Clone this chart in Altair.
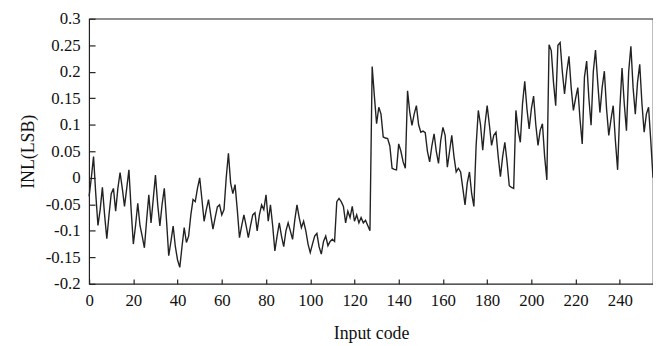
import altair as alt
import pandas as pd

# INL (LSB) per input code 0..255
inl = [
    -0.035, 0.0, 0.04, -0.03, -0.09, -0.06, -0.018, -0.07, -0.115, -0.07,
    -0.03, -0.02, -0.063, -0.02, 0.01, -0.02, -0.054, -0.02, 0.015, -0.06,
    -0.125, -0.09, -0.048, -0.09, -0.11, -0.132, -0.08, -0.032, -0.085, -0.04,
    0.005, -0.05, -0.091, -0.05, -0.02, -0.08, -0.147, -0.12, -0.091, -0.13,
    -0.155, -0.169, -0.13, -0.094, -0.122, -0.11, -0.07, -0.041, -0.045, -0.02,
    0.0, -0.04, -0.082, -0.06, -0.041, -0.07, -0.097, -0.075, -0.055, -0.051,
    -0.07, -0.06, 0.0, 0.046, -0.01, -0.03, -0.013, -0.06, -0.113, -0.09,
    -0.07, -0.09, -0.113, -0.09, -0.07, -0.066, -0.1, -0.07, -0.051, -0.06,
    -0.032, -0.082, -0.051, -0.09, -0.138, -0.11, -0.085, -0.11, -0.13, -0.1,
    -0.085, -0.1, -0.116, -0.08, -0.051, -0.075, -0.094, -0.082, -0.1, -0.125,
    -0.141, -0.125, -0.11, -0.105, -0.13, -0.144, -0.12, -0.11, -0.128, -0.12,
    -0.116, -0.12, -0.045, -0.039, -0.045, -0.054, -0.085, -0.063, -0.075, -0.054,
    -0.082, -0.07, -0.085, -0.075, -0.085, -0.08, -0.09, -0.1, 0.21, 0.154,
    0.102, 0.133, 0.12, 0.077, 0.075, 0.074, 0.06, 0.018, 0.016, 0.015,
    0.064, 0.05, 0.03, 0.018, 0.164, 0.124, 0.099, 0.12, 0.136, 0.1,
    0.086, 0.088, 0.085, 0.05, 0.03, 0.06, 0.083, 0.05, 0.027, 0.07,
    0.095, 0.08, 0.02, 0.05, 0.08, 0.04, 0.011, 0.018, 0.011, -0.02,
    -0.051, -0.01, 0.011, -0.03, -0.054, 0.06, 0.127, 0.1, 0.052, 0.1,
    0.136, 0.1, 0.061, 0.08, 0.086, 0.04, 0.002, 0.04, 0.067, 0.03,
    -0.015, -0.018, -0.02, 0.127, 0.09, 0.067, 0.14, 0.182, 0.13, 0.092,
    0.13, 0.154, 0.1, 0.061, 0.09, 0.102, 0.04, -0.004, 0.251, 0.24,
    0.18, 0.136, 0.25, 0.255, 0.2, 0.158, 0.2, 0.229, 0.17, 0.127,
    0.15, 0.17, 0.11, 0.064, 0.19, 0.22, 0.15, 0.099, 0.2, 0.241,
    0.18, 0.123, 0.17, 0.201, 0.13, 0.08, 0.11, 0.136, 0.07, 0.015,
    0.13, 0.207, 0.14, 0.089, 0.2, 0.248, 0.17, 0.12, 0.18, 0.214,
    0.14, 0.086, 0.12, 0.133, 0.07, 0.0,
]
codes = list(range(len(inl)))

x_ticks = [0, 20, 40, 60, 80, 100, 120, 140, 160, 180, 200, 220, 240]
y_ticks = [-0.2, -0.15, -0.1, -0.05, 0, 0.05, 0.1, 0.15, 0.2, 0.25, 0.3]

df = pd.DataFrame({"code": codes, "inl": inl})

FONT = "Liberation Serif, Times New Roman, serif"

chart = (
    alt.Chart(df)
    .mark_line(color="#222222", strokeWidth=1.4)
    .encode(
        x=alt.X(
            "code:Q",
            scale=alt.Scale(domain=[0, 255], nice=False, zero=False),
            axis=alt.Axis(
                values=x_ticks,
                title="Input code",
                grid=False,
                domain=False,
                offset=-5,
                tickSize=5,
                labelPadding=9,
                titlePadding=16,
                labelFlush=False,
            ),
        ),
        y=alt.Y(
            "inl:Q",
            scale=alt.Scale(domain=[-0.2, 0.3], nice=False, zero=False),
            axis=alt.Axis(
                values=y_ticks,
                title="INL(LSB)",
                grid=False,
                domain=False,
                offset=-6,
                tickSize=6,
                labelPadding=9,
                titlePadding=8,
                labelExpr="'' + datum.value",
            ),
        ),
    )
    .properties(
        width=570,
        height=268,
        autosize=alt.AutoSizeParams(type="none"),
        padding={"left": 82, "top": 9, "right": 0, "bottom": 61},
    )
    .configure_view(stroke="#222222", strokeWidth=1.2)
    .configure_axis(
        labelFont=FONT,
        titleFont=FONT,
        labelFontSize=17,
        titleFontSize=18,
        labelColor="#111111",
        titleColor="#111111",
        titleFontWeight="normal",
        tickColor="#222222",
        tickWidth=1.2,
    )
)

chart.save("out.html", embed_options={"renderer": "svg", "actions": False})
